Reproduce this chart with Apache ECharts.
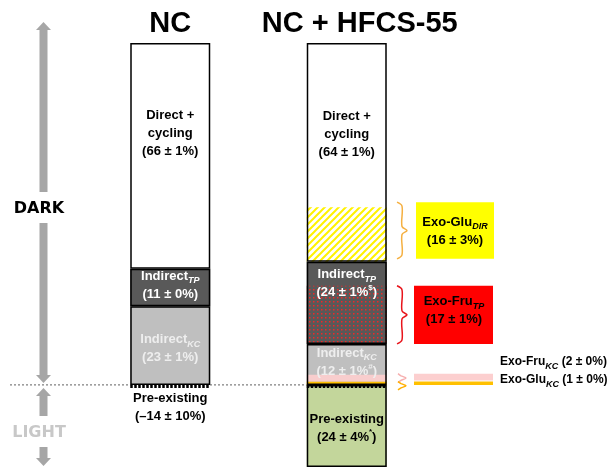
<!DOCTYPE html>
<html>
<head>
<meta charset="utf-8">
<script src="https://cdn.jsdelivr.net/npm/echarts@6/dist/echarts.min.js"></script>
<style>
  html, body { margin: 0; padding: 0; background: #fff; }
  #chart { width: 612px; height: 468px; }
</style>
</head>
<body>
<div id="chart"></div>
<script>
// Label contributions (%) for each group, bottom to top
const groups = ['NC', 'NC + HFCS-55'];
const preExisting = [-14, 24];
const preExistingErr = [10, 4];
const preExistingMark = ['', '*'];
const indirectKC = [23, 12];
const indirectKCErr = [1, 1];
const indirectKCMark = ['', '#'];
const indirectTP = [11, 24];
const indirectTPErr = [0, 1];
const indirectTPMark = ['', '$'];
const directCycling = [66, 64];
const directCyclingErr = [1, 1];

// Exogenous sugar fractions inside the NC + HFCS-55 bar
const exoNames = ['Glu', 'Fru', 'Fru', 'Glu'];
const exoSubs = ['KC', 'KC', 'TP', 'DIR'];
const exoValues = [1, 2, 17, 16];
const exoErrors = [0, 0, 1, 3];

const FONT = '"Liberation Sans", Arial, Helvetica, sans-serif';
const BAR_W = 80;
const HF = 1; // index of the NC + HFCS-55 bar

function rich(color, size) {
  const fs = size || 13;
  return {
    b: { fontFamily: FONT, fontWeight: 'bold', fontSize: fs, lineHeight: 18, color: color },
    s: { fontFamily: FONT, fontWeight: 'bold', fontStyle: 'italic', fontSize: 9, lineHeight: 10, verticalAlign: 'bottom', color: color },
    p: { fontFamily: FONT, fontWeight: 'bold', fontSize: 8, lineHeight: 10, verticalAlign: 'top', color: color }
  };
}
function num(v) { return v < 0 ? '\u2013' + (-v) : String(v); }
function pct(v, e, mark) {
  return '{b|(' + num(v) + ' \u00b1 ' + e + '%}' + (mark ? '{p|' + mark + '}' : '') + '{b|)}';
}

// Fill patterns
function hatchPattern() {
  const c = document.createElement('canvas');
  c.width = 7; c.height = 7;
  const g = c.getContext('2d');
  g.fillStyle = '#ffffff'; g.fillRect(0, 0, 7, 7);
  g.strokeStyle = '#FFF200'; g.lineWidth = 2;
  g.beginPath();
  g.moveTo(-1, 8); g.lineTo(8, -1);
  g.moveTo(-1, 1); g.lineTo(1, -1);
  g.moveTo(6, 8); g.lineTo(8, 6);
  g.stroke();
  return { image: c, repeat: 'repeat' };
}
function dotPattern() {
  const c = document.createElement('canvas');
  c.width = 4; c.height = 4;
  const g = c.getContext('2d');
  g.fillStyle = '#595959'; g.fillRect(0, 0, 4, 4);
  g.fillStyle = '#F02828'; g.fillRect(1, 1, 1.5, 1.5);
  return { image: c, repeat: 'repeat' };
}
const exoFills = ['#FFC000', '#F8CDCD', dotPattern(), hatchPattern()];

// Light-period (pre-existing) area is drawn below the line; a negative fraction has no area
const preDrawn = preExisting.map(v => -Math.max(v, 0));

// Where each exogenous fraction starts inside its segment
const exoBase = [
  0,
  exoValues[0],
  indirectKC[HF],
  indirectKC[HF] + indirectTP[HF]
];

const labelTexts = {
  pre: groups.map((_, i) => '{b|Pre-existing}\n' + pct(preExisting[i], preExistingErr[i], preExistingMark[i])),
  kc: groups.map((_, i) => '{b|Indirect}{s|KC}\n' + pct(indirectKC[i], indirectKCErr[i], indirectKCMark[i])),
  tp: groups.map((_, i) => '{b|Indirect}{s|TP}\n' + pct(indirectTP[i], indirectTPErr[i], indirectTPMark[i])),
  dir: groups.map((_, i) => '{b|Direct +}\n{b|cycling}\n' + pct(directCycling[i], directCyclingErr[i], ''))
};

function fillSeries(name, values, colors) {
  return {
    type: 'bar', name: name, stack: 'fill', barWidth: BAR_W, barGap: '-100%', z: 2, silent: true,
    data: values.map((v, i) => ({ value: v, itemStyle: { color: colors[i] } }))
  };
}
function edgeSeries(name, values, labels) {
  return {
    type: 'bar', name: name + ' edge', stack: 'edge', barWidth: BAR_W, barGap: '-100%', z: 4, silent: true,
    itemStyle: { color: 'rgba(0,0,0,0)', borderColor: '#000', borderWidth: 1.5 },
    data: values.map((v, i) => {
      const l = labels[i];
      return {
        value: v,
        itemStyle: v === 0 ? { borderWidth: 0 } : {},
        label: Object.assign({ show: true, formatter: l.text, rich: rich(l.color), align: 'center' }, l.pos)
      };
    })
  };
}

const chart = echarts.init(document.getElementById('chart'), null, { renderer: 'canvas' });

chart.setOption({
  animation: false,
  backgroundColor: '#ffffff',
  grid: { left: 82, width: 353, top: 43, height: 424 },
  xAxis: {
    type: 'category', data: groups, position: 'top',
    axisLine: { show: false }, axisTick: { show: false }, splitLine: { show: false },
    axisLabel: {
      interval: 0, margin: 5,
      formatter: (v, i) => '{' + (i === HF ? 'r' : 'l') + '|' + v + '}',
      rich: {
        l: { fontFamily: FONT, fontWeight: 'bold', fontSize: 29, color: '#000', padding: [0, 0, 0, 0] },
        r: { fontFamily: FONT, fontWeight: 'bold', fontSize: 29, color: '#000', padding: [0, 0, 0, 26] }
      }
    }
  },
  yAxis: { type: 'value', min: -24, max: 100, show: false },
  series: [
    fillSeries('Pre-existing', preDrawn, ['rgba(0,0,0,0)', '#C3D69B']),
    fillSeries('Indirect KC', indirectKC, ['#BFBFBF', '#BFBFBF']),
    fillSeries('Indirect TP', indirectTP, ['#595959', '#595959']),
    fillSeries('Direct + cycling', directCycling, ['#FFFFFF', '#FFFFFF']),
    {
      type: 'custom', name: 'Exogenous', z: 3, silent: true,
      encode: { x: 0, y: 1 },
      data: exoValues.map((v, i) => [HF, exoBase[i], v]),
      renderItem: function (params, api) {
        const cat = api.value(0), b = api.value(1), v = api.value(2);
        const p0 = api.coord([cat, b]);
        const p1 = api.coord([cat, b + v]);
        return {
          type: 'rect',
          shape: { x: p0[0] - BAR_W / 2, y: p1[1], width: BAR_W, height: p0[1] - p1[1] },
          style: { fill: exoFills[params.dataIndex] }
        };
      }
    },
    edgeSeries('Pre-existing', preDrawn, [
      { text: labelTexts.pre[0], color: '#000', pos: { position: 'bottom', distance: 4 } },
      { text: labelTexts.pre[1], color: '#000', pos: { position: 'inside', offset: [0, 2] } }
    ]),
    edgeSeries('Indirect KC', indirectKC, [
      { text: labelTexts.kc[0], color: '#EEEEEE', pos: { position: 'inside', offset: [0, 3] } },
      { text: labelTexts.kc[1], color: '#EEEEEE', pos: { position: 'inside', offset: [0, -2] } }
    ]),
    edgeSeries('Indirect TP', indirectTP, [
      { text: labelTexts.tp[0], color: '#FFFFFF', pos: { position: 'inside', offset: [0, -2] } },
      { text: labelTexts.tp[1], color: '#FFFFFF', pos: { position: 'insideTop', distance: 4 } }
    ]),
    edgeSeries('Direct + cycling', directCycling, [
      { text: labelTexts.dir[0], color: '#000', pos: { position: 'inside', offset: [0, -22] } },
      { text: labelTexts.dir[1], color: '#000', pos: { position: 'inside', offset: [0, -18] } }
    ])
  ]
});

// Annotations: period arrows, zero line, exogenous callouts
const Y = v => chart.convertToPixel({ yAxisIndex: 0 }, v);
const X = i => chart.convertToPixel({ xAxisIndex: 0 }, i);
const y0 = Y(0);
const GRAY = '#A6A6A6';
const AX = 43.5;

function arrowUp(tip, bottom) {
  return { type: 'polygon', z: 1, shape: { points: [
    [AX, tip], [AX + 7.5, tip + 8], [AX + 4, tip + 8], [AX + 4, bottom], [AX - 4, bottom], [AX - 4, tip + 8], [AX - 7.5, tip + 8]
  ] }, style: { fill: GRAY } };
}
function arrowDown(top, tip) {
  return { type: 'polygon', z: 1, shape: { points: [
    [AX - 4, top], [AX + 4, top], [AX + 4, tip - 8], [AX + 7.5, tip - 8], [AX, tip], [AX - 7.5, tip - 8], [AX - 4, tip - 8]
  ] }, style: { fill: GRAY } };
}
function brace(x, yTop, yBot, color, depth) {
  const ym = (yTop + yBot) / 2;
  const d = depth || 5;
  const r = Math.min(4, (yBot - yTop) / 4);
  return { type: 'polyline', z: 10, shape: { points: [
    [x, yTop], [x + d, yTop + r], [x + d, ym - r], [x + d + 5, ym], [x + d, ym + r], [x + d, yBot - r], [x, yBot]
  ], smooth: 0.35 }, style: { stroke: color, lineWidth: 1.5, fill: null } };
}
function boxText(cx, cy, name, sub, val, err, color) {
  return { type: 'text', z: 11, x: cx, y: cy, style: {
    text: '{b|Exo-' + name + '}{s|' + sub + '}\n' + pct(val, err, ''),
    rich: rich(color), align: 'center', verticalAlign: 'middle'
  } };
}

const hfLeft = X(HF) - BAR_W / 2;
const BOX_L = 414, BOX_W = 79;
const seg = i => ({ top: Y(exoBase[i] + exoValues[i]), bot: Y(exoBase[i]) });
const sDir = seg(3), sTp = seg(2), sFruKC = seg(1), sGluKC = seg(0);
const dirTop = sDir.top - 5, dirBot = sDir.bot - 3;
const PERIOD_FONT = { fontFamily: '"DejaVu Sans", sans-serif', fontWeight: 'bold', fontSize: 16, align: 'center', verticalAlign: 'middle' };

const graphics = [
  arrowUp(22, 192),
  { type: 'text', z: 1, x: 39, y: 209, style: Object.assign({ text: 'DARK', fill: '#000' }, PERIOD_FONT) },
  arrowDown(223, y0 - 2),
  arrowUp(y0 + 3, 416),
  { type: 'text', z: 1, x: 39, y: 433, style: Object.assign({ text: 'LIGHT', fill: '#C8C8C8' }, PERIOD_FONT) },
  arrowDown(447, 466),
  { type: 'line', z: 1, shape: { x1: 10, y1: y0, x2: hfLeft, y2: y0 }, style: { stroke: '#808080', lineWidth: 1.2, lineDash: [2, 2] } }
];
// black dotted strip on the line under each bar
groups.forEach((_, i) => {
  graphics.push({ type: 'line', z: 12, shape: { x1: X(i) - BAR_W / 2, y1: y0 + 1.5, x2: X(i) + BAR_W / 2, y2: y0 + 1.5 },
    style: { stroke: '#000', lineWidth: 3, lineDash: [2.5, 1.5] } });
});
// callouts
graphics.push(
  brace(397, dirTop, dirBot, '#F5B042'),
  { type: 'rect', z: 10, shape: { x: BOX_L + 2, y: dirTop, width: BOX_W - 1, height: dirBot - dirTop }, style: { fill: '#FFFF00' } },
  boxText(BOX_L + 41, (dirTop + dirBot) / 2 + 1, exoNames[3], exoSubs[3], exoValues[3], exoErrors[3], '#000'),
  brace(397, sTp.top, sTp.bot, '#E8141B'),
  { type: 'rect', z: 10, shape: { x: BOX_L, y: sTp.top, width: BOX_W, height: sTp.bot - sTp.top }, style: { fill: '#FF0000' } },
  boxText(BOX_L + 40, (sTp.top + sTp.bot) / 2 - 4, exoNames[2], exoSubs[2], exoValues[2], exoErrors[2], '#fff'),
  brace(398, sFruKC.top - 1, sFruKC.bot + 1, '#F6AFAF', 3),
  { type: 'rect', z: 10, shape: { x: BOX_L, y: sFruKC.top - 1, width: BOX_W, height: sFruKC.bot - sFruKC.top }, style: { fill: '#FCCFCF' } },
  brace(398, sGluKC.top, sGluKC.bot + 5, '#FFB000', 3),
  { type: 'rect', z: 10, shape: { x: BOX_L, y: sGluKC.top, width: BOX_W, height: sGluKC.bot - sGluKC.top }, style: { fill: '#FFC000' } }
);
[1, 0].forEach((k, j) => {
  graphics.push({ type: 'text', z: 11, x: 500, y: [362, 380][j], style: {
    text: '{b|Exo-' + exoNames[k] + '}{s|' + exoSubs[k] + '}{b| (' + exoValues[k] + ' \u00b1 ' + exoErrors[k] + '%)}',
    rich: rich('#000', 12), align: 'left', verticalAlign: 'middle'
  } });
});

chart.setOption({ graphic: graphics });
</script>
</body>
</html>
